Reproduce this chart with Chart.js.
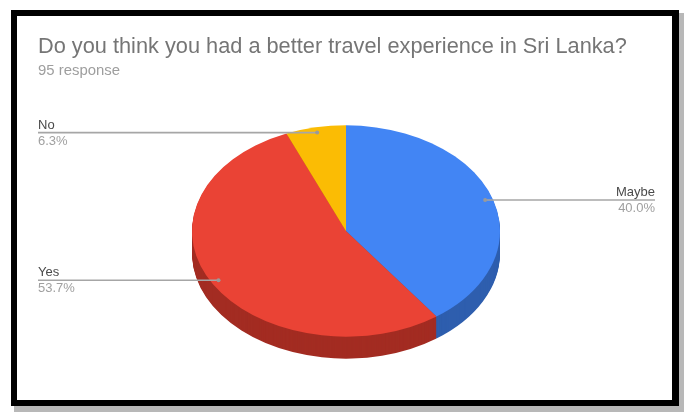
<!DOCTYPE html>
<html>
<head>
<meta charset="utf-8">
<script src="https://cdn.jsdelivr.net/npm/chart.js@4"></script>
<style>
  html, body { margin: 0; padding: 0; background: #ffffff; }
  canvas { display: block; }
</style>
</head>
<body>
<canvas id="c" width="684" height="412"></canvas>
<script>
// Survey answers
const categories = ['Maybe', 'Yes', 'No'];
const responses = [38, 51, 6];
const titleText = 'Do you think you had a better travel experience in Sri Lanka?';
const subtitleText = '95 response';

const sliceColors = ['#4285f4', '#ea4335', '#fbbc04'];
const sideColors = ['#2e5eae', '#a32c22', '#b08403'];

const TILT = 0.686;   // vertical squash of the pie top
const DEPTH = 22;     // thickness of the pie wall in px
const FONT = "'Liberation Sans', Arial, sans-serif";

function fitFont(ctx, text, width, base) {
  ctx.font = base + 'px ' + FONT;
  const w = ctx.measureText(text).width;
  return (base * width / w).toFixed(2) + 'px ' + FONT;
}

function sector(ctx, arc, dy, color) {
  const p = arc.getProps(['x', 'y', 'startAngle', 'endAngle', 'outerRadius'], true);
  ctx.save();
  ctx.translate(p.x, p.y + dy);
  ctx.scale(1, TILT);
  ctx.beginPath();
  ctx.moveTo(0, 0);
  ctx.arc(0, 0, p.outerRadius, p.startAngle, p.endAngle);
  ctx.closePath();
  ctx.fillStyle = color;
  ctx.fill();
  ctx.restore();
}

const framePlugin = {
  id: 'frame',
  beforeDraw(chart) {
    const ctx = chart.ctx;
    ctx.save();
    ctx.fillStyle = '#b8b8b8';
    ctx.fillRect(14, 13, 670, 399);
    ctx.fillStyle = '#000000';
    ctx.fillRect(11, 10, 668, 396);
    ctx.fillStyle = '#ffffff';
    ctx.fillRect(17, 16, 655, 384);

    ctx.textBaseline = 'alphabetic';
    ctx.textAlign = 'left';
    ctx.fillStyle = '#757575';
    ctx.font = fitFont(ctx, titleText, 589, 22);
    ctx.fillText(titleText, 38, 53);
    ctx.fillStyle = '#9e9e9e';
    ctx.font = fitFont(ctx, subtitleText, 82, 15);
    ctx.fillText(subtitleText, 38, 75);
    ctx.restore();
  }
};

const pie3dPlugin = {
  id: 'pie3d',
  beforeDatasetsDraw(chart) {
    const ctx = chart.ctx;
    const arcs = chart.getDatasetMeta(0).data;
    for (let d = DEPTH; d >= 1; d--) {
      arcs.forEach((a, i) => sector(ctx, a, d, sideColors[i]));
    }
    arcs.forEach((a, i) => sector(ctx, a, 0, sliceColors[i]));
    return false;
  },
  afterDraw(chart) {
    const ctx = chart.ctx;
    const arcs = chart.getDatasetMeta(0).data;
    const values = chart.data.datasets[0].data;
    const total = values.reduce((s, v) => s + v, 0);
    ctx.save();
    arcs.forEach((a, i) => {
      const p = a.getProps(['x', 'y', 'startAngle', 'endAngle', 'outerRadius'], true);
      const mid = (p.startAngle + p.endAngle) / 2;
      const px = p.x + 0.95 * p.outerRadius * Math.cos(mid);
      const py = p.y + 0.95 * p.outerRadius * TILT * Math.sin(mid);
      const left = px < p.x;
      const lx = left ? 38 : 655;

      ctx.strokeStyle = '#a6a6a6';
      ctx.lineWidth = 1.6;
      ctx.beginPath();
      ctx.moveTo(lx, py);
      ctx.lineTo(px, py);
      ctx.stroke();
      ctx.fillStyle = '#9a9a9a';
      ctx.beginPath();
      ctx.arc(px, py, 2, 0, Math.PI * 2);
      ctx.fill();

      ctx.textAlign = left ? 'left' : 'right';
      ctx.font = '13px ' + FONT;
      ctx.fillStyle = '#4a4a4a';
      ctx.fillText(chart.data.labels[i], lx, py - 4);
      ctx.fillStyle = '#a0a0a0';
      ctx.fillText((values[i] / total * 100).toFixed(1) + '%', lx, py + 12);
    });
    ctx.restore();
  }
};

new Chart(document.getElementById('c'), {
  type: 'pie',
  data: {
    labels: categories,
    datasets: [{
      data: responses,
      backgroundColor: sliceColors,
      borderWidth: 0,
      hoverOffset: 0
    }]
  },
  options: {
    responsive: false,
    devicePixelRatio: 1,
    animation: false,
    layout: { padding: { left: 192, right: 184, top: 77, bottom: 27 } },
    plugins: {
      legend: { display: false },
      tooltip: { enabled: false },
      title: { display: false }
    },
    events: []
  },
  plugins: [framePlugin, pie3dPlugin]
});
</script>
</body>
</html>
